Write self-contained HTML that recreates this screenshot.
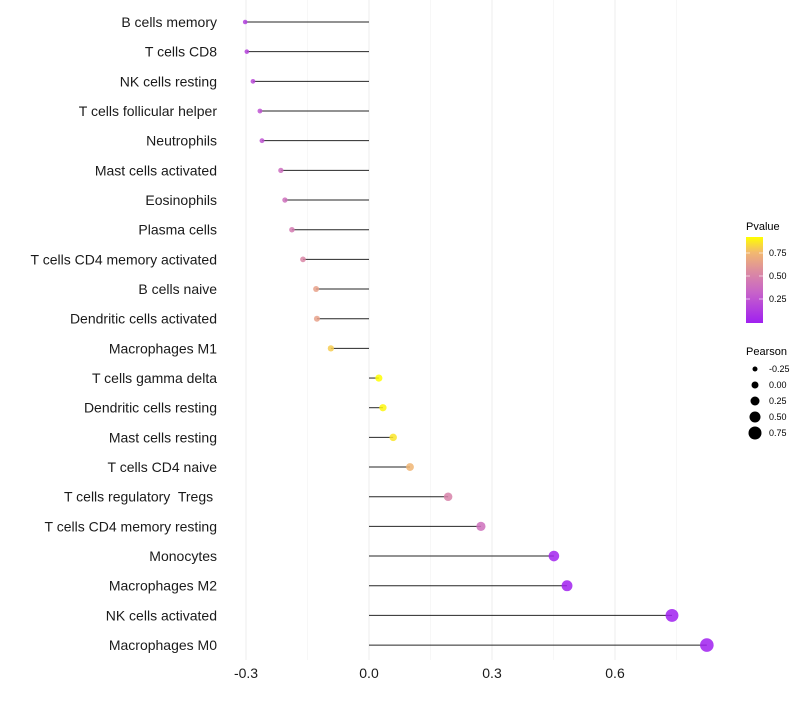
<!DOCTYPE html>
<html><head><meta charset="utf-8"><style>
body{margin:0;background:#fff;font-family:"Liberation Sans",sans-serif;}
svg text{font-family:"Liberation Sans",sans-serif;white-space:pre;}
</style></head><body>
<svg id="chart" width="800" height="700">
<defs><linearGradient id="pg" x1="0" y1="1" x2="0" y2="0">
<stop offset="0" stop-color="#a020f0"/><stop offset="0.36" stop-color="#c864c8"/>
<stop offset="0.6" stop-color="#dc8ca0"/><stop offset="0.82" stop-color="#f2b870"/>
<stop offset="1" stop-color="#ffff00"/></linearGradient></defs>
<g id="grid"></g><g id="marks"></g><g id="labels"></g><g id="xticks"></g><g id="legend"></g>
</svg>
<script>
const categories=["B cells memory","T cells CD8","NK cells resting","T cells follicular helper","Neutrophils","Mast cells activated","Eosinophils","Plasma cells","T cells CD4 memory activated","B cells naive","Dendritic cells activated","Macrophages M1","T cells gamma delta","Dendritic cells resting","Mast cells resting","T cells CD4 naive","T cells regulatory  Tregs ","T cells CD4 memory resting","Monocytes","Macrophages M2","NK cells activated","Macrophages M0"];
const pearson=[-0.302,-0.298,-0.283,-0.266,-0.261,-0.215,-0.205,-0.188,-0.161,-0.129,-0.127,-0.093,0.024,0.034,0.059,0.1,0.193,0.273,0.451,0.483,0.739,0.824];
const pvalue=[0.15,0.17,0.2,0.25,0.25,0.38,0.4,0.45,0.52,0.65,0.65,0.8,0.92,0.9,0.86,0.74,0.5,0.4,0.02,0.01,0.001,0.0];
const xTicks=[-0.3,0,0.3,0.6];
const xTickLabels=["-0.3","0.0","0.3","0.6"];
const minorTicks=[-0.15,0.15,0.45,0.75];
const legendPearson=[-0.25,0,0.25,0.5,0.75];
const legendP=[0.25,0.5,0.75];
const NS="http://www.w3.org/2000/svg";
const x=v=>369+v*410;
const y=i=>22+i*29.67;
const r=v=>3.5+4*v;
const pmax=0.92;
const stops=[[0,[160,32,240]],[0.36,[200,100,200]],[0.6,[220,140,160]],[0.82,[242,184,112]],[1,[255,255,0]]];
function col(p){let t=Math.max(0,Math.min(1,p/pmax));for(let k=1;k<stops.length;k++){if(t<=stops[k][0]){const a=stops[k-1],b=stops[k];const f=(t-a[0])/(b[0]-a[0]);const c=a[1].map((v,j)=>Math.round(v+(b[1][j]-v)*f));return `rgb(${c})`;}}return "rgb(255,255,0)";}
function el(tag,attrs,parent){const e=document.createElementNS(NS,tag);for(const k in attrs)e.setAttribute(k,attrs[k]);parent.appendChild(e);return e;}
const grid=document.getElementById('grid');
minorTicks.forEach(v=>{const l=el('line',{x1:x(v),x2:x(v),y1:0,y2:660,stroke:'#f7f7f7','stroke-width':1},grid);

});
xTicks.forEach(v=>{const l=el('line',{x1:x(v),x2:x(v),y1:0,y2:660,stroke:'#f0f0f0','stroke-width':1.2},grid);

});
const marks=document.getElementById('marks'),labels=document.getElementById('labels');
categories.forEach((c,i)=>{
const s=el('line',{x1:x(0),x2:x(pearson[i]),y1:y(i),y2:y(i),stroke:'#000','stroke-width':1,'stroke-opacity':0.85},marks);


const d=el('circle',{cx:x(pearson[i]),cy:y(i),r:r(pearson[i]),fill:col(pvalue[i]),'fill-opacity':0.85},marks);


const t=el('text',{x:217,y:y(i)+5,'text-anchor':'end','font-size':14,fill:'#1a1a1a'},labels);t.textContent=c;

});
const xt=document.getElementById('xticks');
xTicks.forEach((v,i)=>{const t=el('text',{x:x(v),y:678,'text-anchor':'middle','font-size':14,fill:'#1a1a1a'},xt);t.textContent=xTickLabels[i];

});
const lg=document.getElementById('legend');
const lt=el('text',{x:746,y:230,'font-size':11,fill:'#000'},lg);lt.textContent='Pvalue';


const bar=el('rect',{x:746,y:237,width:17,height:86,fill:'url(#pg)'},lg);


legendP.forEach(p=>{const yy=322-p*92;
el('line',{x1:746,x2:750,y1:yy,y2:yy,stroke:'#fff','stroke-opacity':0.6},lg);
el('line',{x1:759,x2:763,y1:yy,y2:yy,stroke:'#fff','stroke-opacity':0.6},lg);
const t=el('text',{x:769,y:yy+3,'font-size':9,fill:'#000'},lg);t.textContent=p.toFixed(2);

});
const pt=el('text',{x:746,y:355,'font-size':11,fill:'#000'},lg);pt.textContent='Pearson';


legendPearson.forEach((v,i)=>{const yy=369+i*16;
const c=el('circle',{cx:755,cy:yy,r:r(v),fill:'#000'},lg);


const t=el('text',{x:769,y:yy+3,'font-size':9,fill:'#000'},lg);t.textContent=v.toFixed(2);

});
</script>
</body></html>
